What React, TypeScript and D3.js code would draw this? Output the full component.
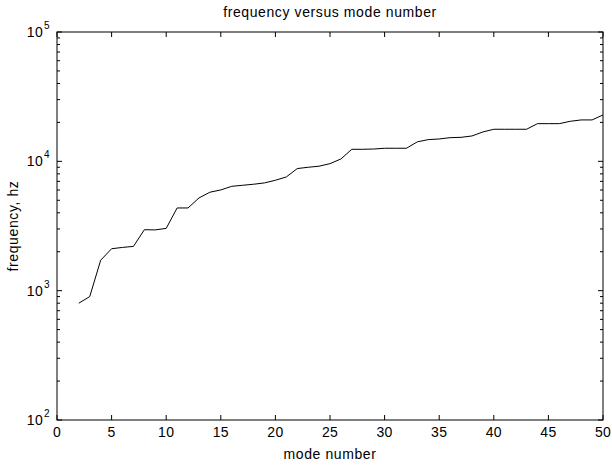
import React from 'react'
import * as d3 from 'd3'

// mode numbers and measured frequencies (hz)
const modes = [2, 3, 4, 5, 6, 7, 8, 9, 10, 11, 12, 13, 14, 15, 16, 17, 18, 19, 20, 21, 22, 23, 24, 25, 26,
  27, 28, 29, 30, 31, 32, 33, 34, 35, 36, 37, 38, 39, 40, 41, 42, 43, 44, 45, 46, 47, 48, 49, 50]
const freqs = [800, 900, 1720, 2110, 2160, 2200, 2960, 2950, 3030, 4360, 4360, 5210, 5770, 6010, 6410,
  6530, 6650, 6810, 7140, 7570, 8790, 9000, 9170, 9600, 10430, 12390, 12390, 12450, 12620, 12620, 12620,
  14150, 14720, 14890, 15240, 15330, 15710, 16870, 17700, 17700, 17700, 17700, 19560, 19560, 19560,
  20400, 20900, 20900, 22840]

const xTicks = [0, 5, 10, 15, 20, 25, 30, 35, 40, 45, 50]
const yDecades = [2, 3, 4, 5]

const W = 612, H = 466
const margin = { top: 32, right: 9, bottom: 46, left: 57 }
const font = 'Liberation Sans, Arial, Helvetica, sans-serif'

export default function App() {
  const x = d3.scaleLinear().domain([0, 50]).range([margin.left, W - margin.right])
  const y = d3.scaleLog().domain([100, 100000]).range([H - margin.bottom, margin.top])
  const line = d3.line<number>()
    .x((d, i) => x(modes[i]))
    .y(d => y(d))

  const x0 = margin.left, x1 = W - margin.right
  const y0 = H - margin.bottom, y1 = margin.top

  const minor: number[] = []
  for (let e = 2; e < 5; e++) for (let k = 2; k <= 9; k++) minor.push(k * Math.pow(10, e))

  return (
    <svg width={W} height={H} style={{ position: 'absolute', left: 0, top: 0, background: '#fff' }}
      fontFamily={font}>
      <rect x={0} y={0} width={W} height={H} fill="#fff" />
      <path d={line(freqs) || ''} fill="none" stroke="#000" strokeWidth={1} />
      <rect x={x0} y={y1} width={x1 - x0} height={y0 - y1} fill="none" stroke="#000" strokeWidth={1} />
      {xTicks.map(t => (
        <g key={'x' + t}>
          <line x1={x(t)} x2={x(t)} y1={y0} y2={y0 - 5} stroke="#000" />
          <line x1={x(t)} x2={x(t)} y1={y1} y2={y1 + 5} stroke="#000" />
          <text x={x(t)} y={y0 + 17} textAnchor="middle" fontSize={14} letterSpacing={0.3}>{t}</text>
        </g>
      ))}
      {yDecades.map(e => (
        <g key={'y' + e}>
          <line x1={x0} x2={x0 + 5} y1={y(Math.pow(10, e))} y2={y(Math.pow(10, e))} stroke="#000" />
          <line x1={x1} x2={x1 - 5} y1={y(Math.pow(10, e))} y2={y(Math.pow(10, e))} stroke="#000" />
          <text x={x0 - 14} y={y(Math.pow(10, e)) + 5} textAnchor="end" fontSize={14} letterSpacing={0.3}>10</text>
          <text x={x0 - 13} y={y(Math.pow(10, e)) - 3} textAnchor="start" fontSize={10}>{e}</text>
        </g>
      ))}
      {minor.map(v => (
        <g key={'m' + v}>
          <line x1={x0} x2={x0 + 3} y1={y(v)} y2={y(v)} stroke="#000" />
          <line x1={x1} x2={x1 - 3} y1={y(v)} y2={y(v)} stroke="#000" />
        </g>
      ))}
      <text x={(x0 + x1) / 2} y={17} textAnchor="middle" fontSize={14} letterSpacing={0.6}>frequency versus mode number</text>
      <text x={(x0 + x1) / 2} y={459} textAnchor="middle" fontSize={14} letterSpacing={0.6}>mode number</text>
      <text transform={`translate(18,${(y0 + y1) / 2}) rotate(-90)`} textAnchor="middle" fontSize={14}
        letterSpacing={0.6}>frequency, hz</text>
    </svg>
  )
}
